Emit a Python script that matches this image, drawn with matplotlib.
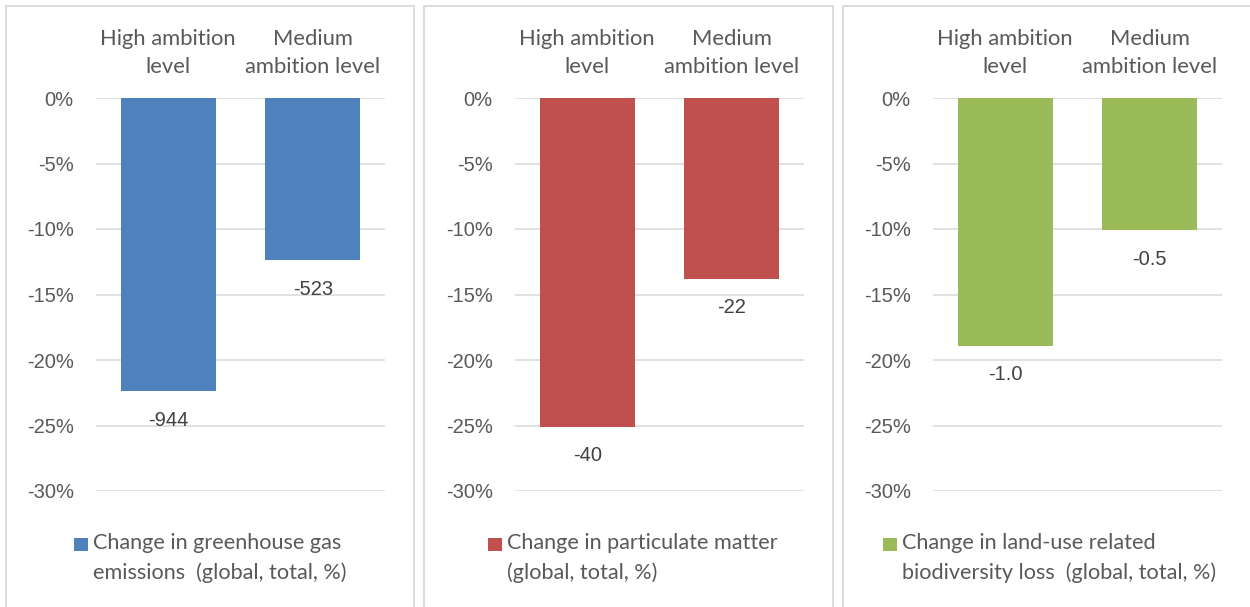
import matplotlib.pyplot as plt
from matplotlib.patches import Rectangle
from matplotlib.ticker import FuncFormatter, MultipleLocator

# --- Data ---
categories = ["High ambition\nlevel", "Medium\nambition level"]

ghg_pct = [-22.4, -12.4]
pm_pct = [-25.1, -13.8]
bio_pct = [-18.9, -10.1]

ghg_labels = ["-944", "-523"]
pm_labels = ["-40", "-22"]
bio_labels = ["-1.0", "-0.5"]

legend_texts = [
    "Change in greenhouse gas\nemissions  (global, total, %)",
    "Change in particulate matter\n(global, total, %)",
    "Change in land-use related\nbiodiversity loss  (global, total, %)",
]
colors = ["#4F81BD", "#C0504D", "#9BBB59"]

# --- Style ---
W, H = 1250, 607
grid_col = "#D9D9D9"
text_col = "#595959"
label_col = "#404040"
num_font = "Liberation Sans"
cat_font = "Lato"

fig = plt.figure(figsize=(W / 100, H / 100), dpi=100)


def fx(px):
    return px / W


def fy(py):
    return 1 - py / H


# panel frames (left, right) in pixels, plot area left edge, legend key left edge
frames = [(6, 414), (424, 833), (843, 1252)]
plot_left = [96, 515, 933]
key_left = [74, 488, 883]
plot_w = 289
plot_top, plot_bot = 98, 491

series = [(ghg_pct, ghg_labels), (pm_pct, pm_labels), (bio_pct, bio_labels)]

for i, ((vals, labs), (fl, fr)) in enumerate(zip(series, frames)):
    fig.add_artist(Rectangle((fx(fl), fy(H + 5)), fx(fr - fl), fy(6) - fy(H + 5),
                             transform=fig.transFigure, fill=False,
                             edgecolor=grid_col, linewidth=1.3))

    ax = fig.add_axes([fx(plot_left[i]), fy(plot_bot), fx(plot_w), fy(plot_top) - fy(plot_bot)])
    x = range(len(categories))
    bars = ax.bar(x, vals, width=0.66, color=colors[i], zorder=3)
    ax.set_xlim(-0.5, 1.5)
    ax.set_ylim(-30, 0)
    ax.yaxis.set_major_locator(MultipleLocator(5))
    ax.yaxis.set_major_formatter(FuncFormatter(lambda v, p: f"{v:.0f}%"))
    ax.grid(axis="y", color=grid_col, linewidth=1.1, zorder=0)
    ax.set_axisbelow(True)
    for s in ax.spines.values():
        s.set_visible(False)
    ax.tick_params(axis="y", length=0, pad=16, labelsize=14.5, labelcolor=text_col)
    for t in ax.get_yticklabels():
        t.set_fontfamily(num_font)
    ax.xaxis.tick_top()
    ax.set_xticks(list(x))
    ax.set_xticklabels(categories, fontsize=15.8, color=text_col, family=cat_font,
                       linespacing=1.5)
    ax.tick_params(axis="x", length=0, pad=15)

    for b, lab in zip(bars, labs):
        ax.annotate(lab, (b.get_x() + b.get_width() / 2, b.get_height()),
                    xytext=(0, -14), textcoords="offset points", ha="center", va="top",
                    fontsize=14.5, color=label_col, family=num_font)

    # legend entry
    sq_x = key_left[i]
    fig.add_artist(Rectangle((fx(sq_x), fy(551)), fx(14), fy(538) - fy(551),
                             transform=fig.transFigure, color=colors[i], linewidth=0))
    fig.text(fx(sq_x + 19), fy(558), legend_texts[i], ha="left", va="center",
             fontsize=15.6, color=text_col, family=cat_font, linespacing=1.55)

fig.savefig("out.png", dpi=100, facecolor="white")
